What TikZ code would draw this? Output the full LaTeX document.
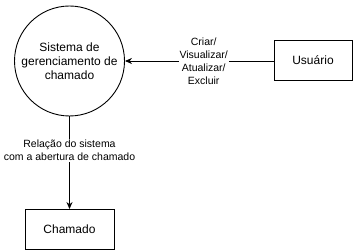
\documentclass[tikz,border=0pt]{standalone}
\usepackage{fontspec}
\setmainfont{Liberation Sans}
\usetikzlibrary{arrows.meta}

\begin{document}
\begin{tikzpicture}[x=1pt, y=-1pt, line width=0.9pt,
  proc/.style={draw, circle, minimum size=110pt, inner sep=0pt, align=center,
    font=\fontsize{12}{14}\selectfont},
  ent/.style={draw, rectangle, minimum height=40pt, align=center,
    font=\fontsize{12}{14}\selectfont},
  flow/.style={-{Stealth[length=7pt,width=6pt]}},
  lbl/.style={fill=white, inner sep=1pt, align=center,
    font=\fontsize{10.5}{13}\selectfont},
  ]
\useasboundingbox (0,0) rectangle (355,251);

% === process and entities
\node[proc] (sis) at (69.5,61) {Sistema de\\gerenciamento de\\chamado};
\node[ent, minimum width=78pt] (usu) at (313,60) {Usuário};
\node[ent, minimum width=89pt] (cha) at (69.5,229.5) {Chamado};

% === flows
\draw[flow] (usu.west |- sis.east) -- (sis.east)
  node[lbl, pos=0.47] {Criar/\\Visualizar/\\Atualizar/\\Excluir};
\draw[flow] (sis.south) -- (cha.north)
  node[lbl, pos=0.37] {Relação do sistema\\com a abertura de chamado};

\end{tikzpicture}
\end{document}
